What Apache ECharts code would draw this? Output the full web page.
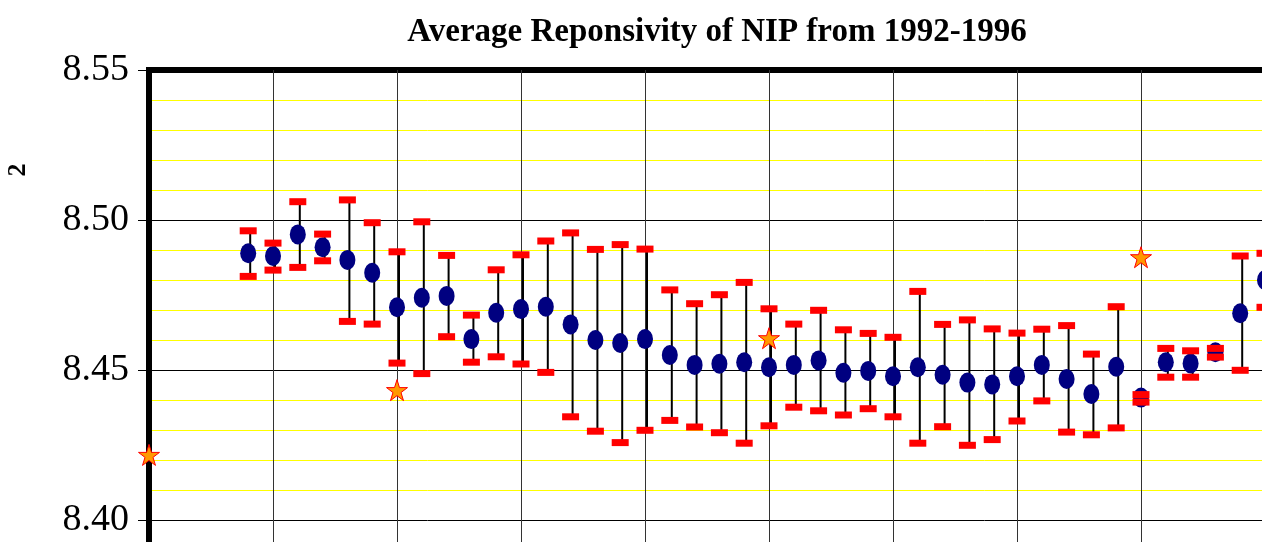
<!DOCTYPE html>
<html>
<head>
<meta charset="utf-8">
<script src="https://cdn.jsdelivr.net/npm/echarts@6/dist/echarts.min.js"></script>
<style>html,body{margin:0;padding:0;background:#fff;}#c{width:1262px;height:542px;}</style>
</head>
<body>
<div id="c"></div>
<script>
// ---- data ----
const idx  = [4,5,6,7,8,9,10,11,12,13,14,15,16,17,18,19,20,21,22,23,24,25,26,27,28,29,30,31,32,33,34,35,36,37,38,39,40,41,42,43,44,45];
const mean = [8.4889,8.4880,8.4952,8.4909,8.4867,8.4824,8.4709,8.4741,8.4747,8.4603,8.4691,8.4703,8.4711,8.4652,8.4600,8.4590,8.4603,8.4550,8.4517,8.4521,8.4526,8.4509,8.4517,8.4532,8.4491,8.4497,8.4479,8.4509,8.4484,8.4458,8.4452,8.4479,8.4517,8.4470,8.4420,8.4511,8.4408,8.4526,8.4522,8.4559,8.4689,8.4800];
const high = [8.4964,8.4923,8.5061,8.4953,8.5067,8.4991,8.4894,8.4994,8.4882,8.4683,8.4834,8.4884,8.4930,8.4957,8.4902,8.4918,8.4903,8.4767,8.4721,8.4751,8.4792,8.4704,8.4653,8.4699,8.4634,8.4622,8.4609,8.4762,8.4652,8.4667,8.4637,8.4623,8.4636,8.4648,8.4553,8.4711,8.4418,8.4572,8.4564,8.4572,8.4880,8.4889];
const low  = [8.4812,8.4833,8.4842,8.4864,8.4662,8.4653,8.4523,8.4488,8.4611,8.4526,8.4544,8.4520,8.4492,8.4344,8.4296,8.4258,8.4299,8.4332,8.4310,8.4291,8.4256,8.4314,8.4376,8.4364,8.4350,8.4371,8.4344,8.4256,8.4311,8.4249,8.4268,8.4330,8.4397,8.4293,8.4284,8.4307,8.4393,8.4476,8.4476,8.4543,8.4499,8.4709];
const starX = [0,10,25,40];
const starY = [8.4217,8.4433,8.4606,8.4876];
const yTickLabels = ['8.35','8.40','8.45','8.50','8.55'];
const titleText = 'Average Reponsivity of NIP from 1992-1996';
const yName = '2';

const meanData = idx.map((x,i)=>[x,mean[i]]);
const capData = idx.map((x,i)=>[x,high[i]]).concat(idx.map((x,i)=>[x,low[i]]));
const barData = idx.map((x,i)=>[x,low[i],high[i]]);
const starData = starX.map((x,i)=>[x,starY[i]]);
const STAR = 'path://M50,0 L61.2,34.5 L97.6,34.5 L68.2,55.9 L79.4,90.5 L50,69.1 L20.6,90.5 L31.8,55.9 L2.4,34.5 L38.8,34.5 Z';
const ELLIPSE = 'path://M50,0 A50,50 0 1,1 50,100 A50,50 0 1,1 50,0 Z';

const chart = echarts.init(document.getElementById('c'));
chart.setOption({
  animation:false,
  backgroundColor:'#fff',
  title:{
    text:titleText, left:712, top:11, textAlign:'center',
    textStyle:{fontFamily:'Liberation Serif',fontWeight:'bold',fontSize:33,color:'#000'}
  },
  graphic:[{
    type:'text', x:18, y:170, rotation:Math.PI/2,
    style:{text:yName, font:'bold 26px "Liberation Serif"', fill:'#000', align:'center', verticalAlign:'middle'}
  }],
  grid:{left:149, top:70, width:1240, height:600, outerBoundsMode:'none', containLabel:false,
    show:true, borderColor:'#000', borderWidth:6, backgroundColor:'transparent'},
  xAxis:{
    type:'value', min:0, max:50, interval:5,
    axisLine:{show:false}, axisTick:{show:false}, axisLabel:{show:false},
    splitLine:{show:true, lineStyle:{color:'#333', width:1}}
  },
  yAxis:{
    type:'value', min:8.35, max:8.55, interval:0.05,
    axisLine:{show:true, lineStyle:{color:'#000', width:6}},
    axisTick:{show:true, length:11, lineStyle:{color:'#000', width:1}},
    axisLabel:{margin:20, fontFamily:'Liberation Serif', fontSize:38, color:'#000',
      formatter:(v)=>{const s=v.toFixed(2); return yTickLabels.indexOf(s)>=0?s:'';}},
    splitLine:{show:true, lineStyle:{color:'#000', width:1}},
    minorTick:{show:false, splitNumber:5},
    minorSplitLine:{show:true, lineStyle:{color:'#ffff00', width:1}}
  },
  series:[
    {
      type:'custom', data:barData, z:2, silent:true,
      renderItem:(params, api)=>{
        const p1 = api.coord([api.value(0), api.value(1)]);
        const p2 = api.coord([api.value(0), api.value(2)]);
        return {type:'line', shape:{x1:p1[0]+2, y1:p1[1], x2:p2[0]+2, y2:p2[1]},
          style:{stroke:'#000', lineWidth:2}};
      },
      encode:{x:0, y:[1,2]}
    },
    {type:'scatter', data:meanData, symbol:ELLIPSE, symbolSize:[16,20], z:3, silent:true,
      itemStyle:{color:'#000080', opacity:1}},
    {type:'scatter', data:capData, symbol:'rect', symbolSize:[17,7], z:4, silent:true,
      itemStyle:{color:'#ff0000', opacity:1}},
    {type:'scatter', data:starData, symbol:STAR, symbolSize:[21,21], z:5, silent:true,
      itemStyle:{color:'#ff9900', borderColor:'#ff0000', borderWidth:1, opacity:1}}
  ]
});
</script>
</body>
</html>
